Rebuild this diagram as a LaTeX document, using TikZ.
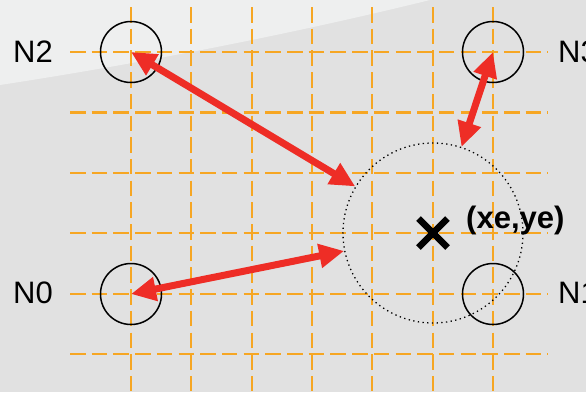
\documentclass[tikz,border=0pt]{standalone}
\usepackage{fontspec}
\setmainfont{Liberation Sans}
\usetikzlibrary{arrows.meta,calc}
\definecolor{bggray}{RGB}{225,225,225}
\definecolor{bglight}{RGB}{238,239,239}
\definecolor{gridorange}{RGB}{246,166,35}
\definecolor{arrowred}{RGB}{238,45,38}
\begin{document}
\begin{tikzpicture}[x=1pt,y=-1pt,
  gridline/.style={gridorange, line width=2.2pt, dash pattern=on 15.5pt off 6.2pt},
  anchorcircle/.style={circle, draw=black, line width=1.5pt, minimum size=61pt, inner sep=0pt},
  estcircle/.style={circle, draw=black, line width=1.3pt, dash pattern=on 1.3pt off 3.4pt, minimum size=180pt, inner sep=0pt},
  link/.style={arrowred, line width=7pt, {Triangle[length=25pt,width=23pt]}-{Triangle[length=25pt,width=23pt]}},
  nlabel/.style={font=\fontsize{31}{31}\selectfont, inner sep=0pt, anchor=base west},
  estlabel/.style={font=\fontsize{31}{31}\selectfont\bfseries, inner sep=0pt, anchor=base west},
  xmark/.style={black, line width=6.5pt},
]
\useasboundingbox (0,0) rectangle (586,392);
\fill[bggray] (0,0) rectangle (586,392);
\fill[bglight] (0,0) -- (430,0) .. controls (300,32) and (150,62) .. (0,85) -- cycle;
% grid
\foreach \i in {0,...,6}{
  \draw[gridline] ({131+60.33*\i},7) -- ({131+60.33*\i},392);
}
\foreach \j in {0,...,5}{
  \draw[gridline] (70,{52+60.4*\j}) -- (548,{52+60.4*\j});
}
% estimate
\node[estcircle] (est) at (433,233) {};
\coordinate (xe) at (433,233);
% anchors
\node[anchorcircle] (N2) at (131,52) {};
\node[anchorcircle] (N3) at (493,52) {};
\node[anchorcircle] (N0) at (131,294) {};
\node[anchorcircle] (N1) at (493,294) {};
% labels
\node[nlabel] (L2) at (13,62) {N2};
\node[nlabel] (L3) at (558,62) {N3};
\node[nlabel] (L0) at (13,303) {N0};
\node[nlabel] (L1) at (558,303) {N1};
\node[estlabel] (LE) at (466,228.5) {(xe,ye)};
% links
\draw[link] (N2.center) -- (est);
\draw[link] (N3.center) -- (est);
\draw[link] (N0.center) -- (est);
% cross
\draw[xmark] ($(xe)+(-14.5,-14.5)$) -- ($(xe)+(14.5,14.5)$);
\draw[xmark] ($(xe)+(-14.5,14.5)$) -- ($(xe)+(14.5,-14.5)$);
\end{tikzpicture}
\end{document}
